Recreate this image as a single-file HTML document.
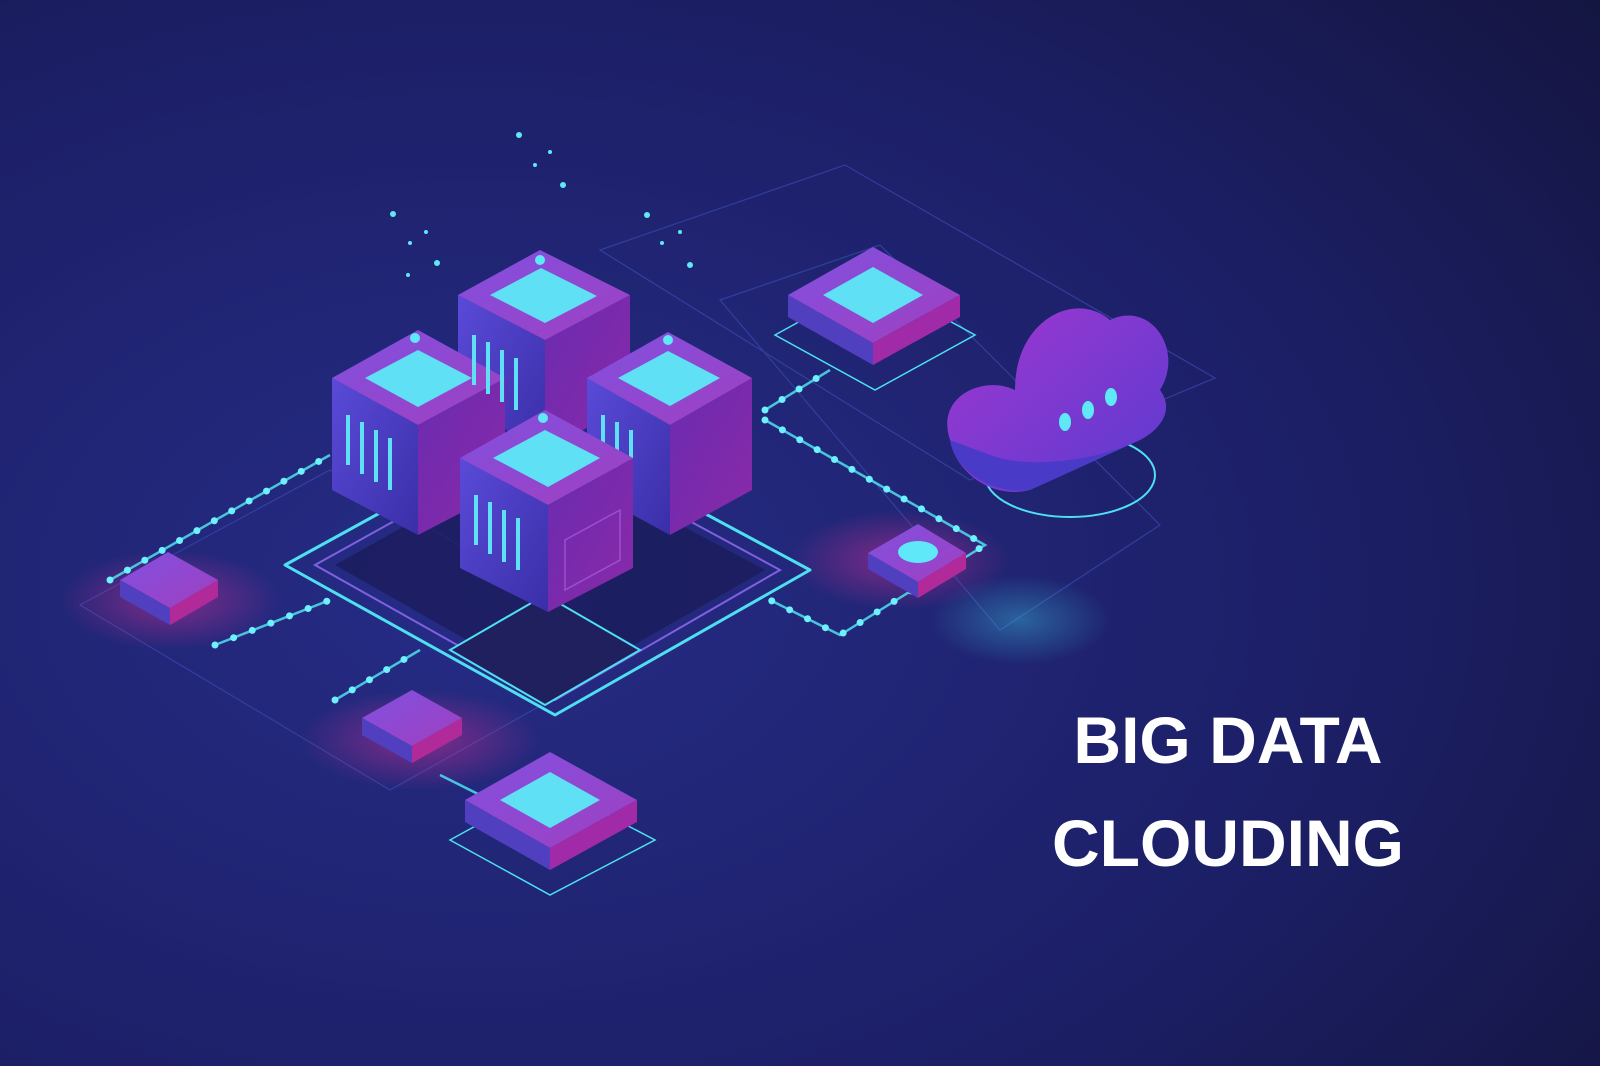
<!DOCTYPE html>
<html><head><meta charset="utf-8"><style>
html,body{margin:0;padding:0;width:1600px;height:1066px;overflow:hidden;background:#1a1c5c}
svg{display:block}
.t{font-family:"Liberation Sans",sans-serif;font-weight:bold;fill:#fff;text-anchor:middle;font-size:66px}
</style></head><body>
<svg width="1600" height="1066" viewBox="0 0 1600 1066" xmlns="http://www.w3.org/2000/svg">
<defs>
<radialGradient id="bg" cx="0.3" cy="0.55" r="0.9">
<stop offset="0" stop-color="#262c86"/><stop offset="0.6" stop-color="#1c1f66"/><stop offset="1" stop-color="#141540"/></radialGradient>
<linearGradient id="lf" x1="0" y1="0" x2="1" y2="1"><stop offset="0" stop-color="#5a4ad8"/><stop offset="1" stop-color="#3a2fa8"/></linearGradient>
<linearGradient id="rf" x1="0" y1="0" x2="1" y2="1"><stop offset="0" stop-color="#6a2bb0"/><stop offset="1" stop-color="#8a2aa8"/></linearGradient>
<linearGradient id="tf" x1="0" y1="0" x2="1" y2="1"><stop offset="0" stop-color="#8050e0"/><stop offset="1" stop-color="#a040c0"/></linearGradient>
<radialGradient id="glow"><stop offset="0" stop-color="#e0309a" stop-opacity="0.5"/><stop offset="1" stop-color="#e0309a" stop-opacity="0"/></radialGradient>
<radialGradient id="cg"><stop offset="0" stop-color="#3fd8f0" stop-opacity="0.35"/><stop offset="1" stop-color="#3fd8f0" stop-opacity="0"/></radialGradient>
<linearGradient id="cl" x1="0" y1="0" x2="1" y2="1"><stop offset="0" stop-color="#a038d0"/><stop offset="1" stop-color="#5a3ad0"/></linearGradient>
</defs>
<rect width="1600" height="1066" fill="url(#bg)"/>
<g fill="none" stroke="#3a4ab0" stroke-width="1.2" opacity="0.7">
<path d="M600,250 L845,165 L1215,378 L970,480 Z"/>
<path d="M720,300 L880,245 L1160,525 L1000,630 Z"/>
<path d="M80,605 L330,470 L640,650 L390,790 Z"/>
</g>
<ellipse cx="170" cy="600" rx="110" ry="50" fill="url(#glow)"/>
<ellipse cx="420" cy="740" rx="120" ry="50" fill="url(#glow)"/>
<ellipse cx="900" cy="560" rx="110" ry="50" fill="url(#glow)"/>
<ellipse cx="1020" cy="620" rx="90" ry="45" fill="url(#cg)"/>
<g fill="none" stroke="#4ee0f0" stroke-width="3">
<path d="M285,565 L540,425 L810,570 L555,715 Z" stroke-linejoin="round"/>
<path d="M315,565 L540,440 L780,570 L555,700 Z" stroke="#8060e0" stroke-width="2"/>
</g>
<path d="M335,565 L540,450 L765,570 L555,690 Z" fill="#1a1a55" opacity="0.7"/>
<path d="M450,650 L545,595 L640,650 L545,705 Z" fill="#20205e" stroke="#4ee0f0" stroke-width="2"/>
<g fill="none" stroke="#4ee0f0" stroke-width="2.5" opacity="0.85">
<path d="M110,580 L330,455"/><path d="M215,645 L330,600"/><path d="M335,700 L420,650"/>
<path d="M765,420 L985,545 L840,635 L770,600"/><path d="M765,410 L830,370"/><path d="M440,775 L480,795"/>
</g>
<g fill="none" stroke="#6ef0ff" stroke-width="7" stroke-dasharray="0 20" stroke-linecap="round">
<path d="M110,580 L330,455"/><path d="M215,645 L330,600"/><path d="M335,700 L420,650"/>
<path d="M765,420 L985,545 L840,635 L770,600"/><path d="M765,410 L830,370"/>
</g>
<g>
<path d="M120,580 L168,552 L218,580 L170,608 Z" fill="url(#tf)"/>
<path d="M120,580 L170,608 L170,625 L120,597 Z" fill="#5040c0"/>
<path d="M170,608 L218,580 L218,597 L170,625 Z" fill="#b02a9a"/>
<path d="M362,718 L412,690 L462,718 L412,746 Z" fill="url(#tf)"/>
<path d="M362,718 L412,746 L412,763 L362,735 Z" fill="#5040c0"/>
<path d="M412,746 L462,718 L462,735 L412,763 Z" fill="#b02a9a"/>
<path d="M868,553 L918,524 L966,553 L918,582 Z" fill="url(#tf)"/>
<path d="M868,553 L918,582 L918,598 L868,569 Z" fill="#5040c0"/>
<path d="M918,582 L966,553 L966,569 L918,598 Z" fill="#b02a9a"/>
<ellipse cx="918" cy="552" rx="20" ry="11" fill="#5fe8f8"/>
</g>
<g>
<path d="M450,840 L550,785 L655,840 L550,895 Z" fill="none" stroke="#4ee0f0" stroke-width="1.5"/>
<path d="M465,800 L550,752 L637,800 L550,848 Z" fill="url(#tf)"/>
<path d="M465,800 L550,848 L550,870 L465,822 Z" fill="#5040c0"/>
<path d="M550,848 L637,800 L637,822 L550,870 Z" fill="#a02aa8"/>
<path d="M500,800 L550,772 L600,800 L550,828 Z" fill="#5fe0f5"/>
<path d="M775,335 L875,280 L975,335 L875,390 Z" fill="none" stroke="#4ee0f0" stroke-width="1.5"/>
<path d="M788,295 L873,247 L960,295 L873,343 Z" fill="url(#tf)"/>
<path d="M788,295 L873,343 L873,365 L788,317 Z" fill="#5040c0"/>
<path d="M873,343 L960,295 L960,317 L873,365 Z" fill="#a02aa8"/>
<path d="M823,295 L873,267 L923,295 L873,323 Z" fill="#5fe0f5"/>
</g>
<ellipse cx="1070" cy="475" rx="85" ry="42" fill="none" stroke="#4ee0f0" stroke-width="2"/>
<path d="M950,440 C935,395 985,375 1015,390 C1015,320 1075,290 1110,320 C1150,300 1185,350 1160,390 C1175,410 1160,430 1140,440 L1030,490 C990,500 955,470 950,440 Z" fill="url(#cl)"/>
<path d="M950,440 C955,470 990,495 1030,490 L1140,440 C1100,460 1030,470 990,455 Z" fill="#4a3ac8"/>
<ellipse cx="1065" cy="422" rx="6" ry="9" fill="#5fe8f8"/><ellipse cx="1088" cy="410" rx="6" ry="9" fill="#5fe8f8"/><ellipse cx="1111" cy="397" rx="6" ry="9" fill="#5fe8f8"/>
<g>
<path d="M458,295 L545,340 L545,450 L458,405 Z" fill="url(#lf)"/>
<path d="M545,340 L630,295 L630,405 L545,450 Z" fill="url(#rf)"/>
<path d="M458,295 L540,250 L630,295 L545,340 Z" fill="url(#tf)"/>
<path d="M490,295 L541,268 L597,296 L545,323 Z" fill="#5fe0f5"/>
</g>
<g>
<path d="M332,378 L418,425 L418,535 L332,490 Z" fill="url(#lf)"/>
<path d="M418,425 L505,378 L505,490 L418,535 Z" fill="url(#rf)"/>
<path d="M332,378 L418,330 L505,378 L418,425 Z" fill="url(#tf)"/>
<path d="M365,378 L418,350 L472,378 L418,407 Z" fill="#5fe0f5"/>
<g stroke="#5fe0f5" stroke-width="4"><path d="M348,415 v50 M362,422 v52 M376,430 v52 M390,438 v52"/></g>
</g>
<g>
<path d="M587,378 L670,425 L670,535 L587,490 Z" fill="url(#lf)"/>
<path d="M670,425 L752,378 L752,490 L670,535 Z" fill="url(#rf)"/>
<path d="M587,378 L668,332 L752,378 L670,425 Z" fill="url(#tf)"/>
<path d="M618,378 L668,351 L720,378 L670,406 Z" fill="#5fe0f5"/>
<g stroke="#5fe0f5" stroke-width="4"><path d="M603,415 v50 M617,422 v52 M631,430 v52"/></g>
<g stroke="#5fe0f5" stroke-width="4"><path d="M474,335 v50 M488,342 v52 M502,350 v52 M516,358 v52"/></g>
</g>
<g>
<path d="M460,458 L548,505 L548,612 L460,568 Z" fill="url(#lf)"/>
<path d="M548,505 L633,458 L633,568 L548,612 Z" fill="url(#rf)"/>
<path d="M460,458 L545,410 L633,458 L548,505 Z" fill="url(#tf)"/>
<path d="M493,458 L545,430 L600,458 L548,487 Z" fill="#5fe0f5"/>
<g stroke="#5fe0f5" stroke-width="4"><path d="M476,495 v50 M490,502 v52 M504,510 v52 M518,518 v52"/></g>
<path d="M565,540 L620,510 L620,560 L565,590 Z" fill="none" stroke="#9a50d0" stroke-width="1.5"/>
</g>
<g fill="#5fe8f8">
<circle cx="519" cy="135" r="3"/><circle cx="535" cy="165" r="2"/><circle cx="563" cy="185" r="3"/><circle cx="550" cy="152" r="2"/>
<circle cx="393" cy="214" r="3"/><circle cx="410" cy="243" r="2"/><circle cx="437" cy="263" r="3"/><circle cx="426" cy="232" r="2"/><circle cx="408" cy="275" r="2"/>
<circle cx="647" cy="215" r="3"/><circle cx="662" cy="243" r="2"/><circle cx="690" cy="265" r="3"/><circle cx="680" cy="232" r="2"/>
<circle cx="540" cy="260" r="5"/><circle cx="415" cy="338" r="5"/><circle cx="668" cy="340" r="5"/><circle cx="543" cy="418" r="5"/>
</g>
<text class="t" x="1228" y="763">BIG DATA</text>
<text class="t" x="1228" y="866">CLOUDING</text>
</svg>
</body></html>
